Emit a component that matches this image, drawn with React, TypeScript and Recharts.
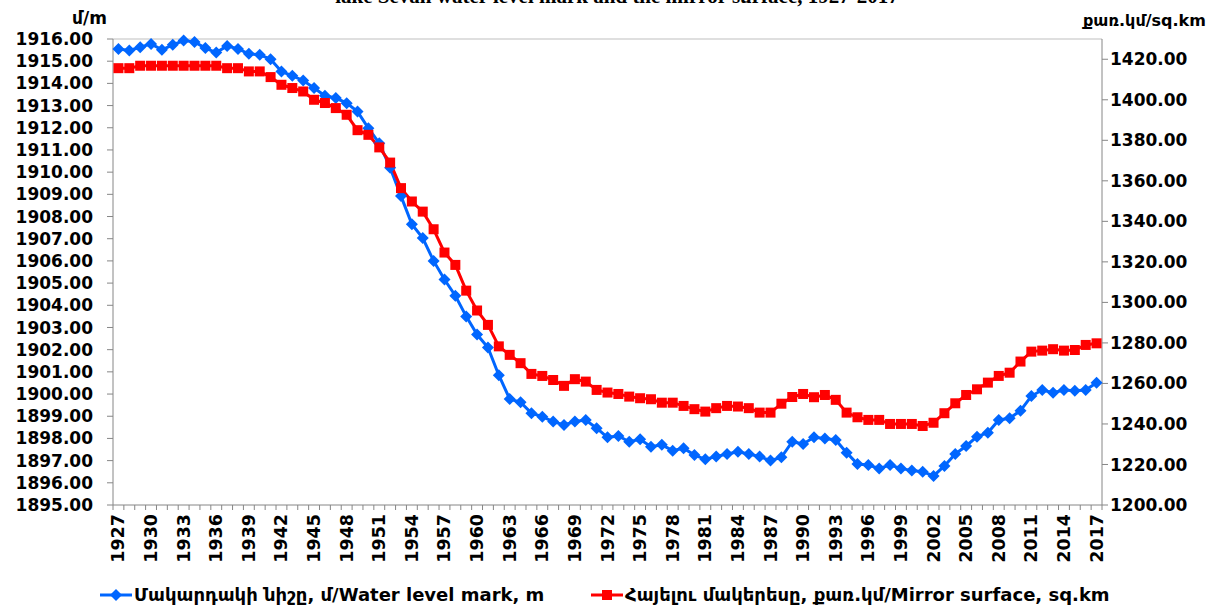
import { LineChart, Line, XAxis, YAxis, ReferenceLine } from 'recharts';

const years = [
  1927, 1928, 1929, 1930, 1931, 1932, 1933, 1934, 1935, 1936,
  1937, 1938, 1939, 1940, 1941, 1942, 1943, 1944, 1945, 1946,
  1947, 1948, 1949, 1950, 1951, 1952, 1953, 1954, 1955, 1956,
  1957, 1958, 1959, 1960, 1961, 1962, 1963, 1964, 1965, 1966,
  1967, 1968, 1969, 1970, 1971, 1972, 1973, 1974, 1975, 1976,
  1977, 1978, 1979, 1980, 1981, 1982, 1983, 1984, 1985, 1986,
  1987, 1988, 1989, 1990, 1991, 1992, 1993, 1994, 1995, 1996,
  1997, 1998, 1999, 2000, 2001, 2002, 2003, 2004, 2005, 2006,
  2007, 2008, 2009, 2010, 2011, 2012, 2013, 2014, 2015, 2016,
  2017,
];

// water level mark, m
const waterLevel = [
  1915.55, 1915.48, 1915.63, 1915.78, 1915.51, 1915.74, 1915.93, 1915.87, 1915.59, 1915.39,
  1915.69, 1915.55, 1915.33, 1915.29, 1915.09, 1914.54, 1914.34, 1914.13, 1913.79, 1913.44,
  1913.34, 1913.11, 1912.73, 1911.98, 1911.3, 1910.2, 1908.92, 1907.65, 1907.03, 1906.0,
  1905.16, 1904.43, 1903.5, 1902.68, 1902.1, 1900.85, 1899.78, 1899.63, 1899.14, 1898.98,
  1898.76, 1898.61, 1898.76, 1898.83, 1898.46, 1898.05, 1898.11, 1897.85, 1897.96, 1897.63,
  1897.71, 1897.45, 1897.56, 1897.25, 1897.06, 1897.18, 1897.3, 1897.4, 1897.3, 1897.18,
  1897.0, 1897.15, 1897.85, 1897.75, 1898.05, 1898.0, 1897.93, 1897.36, 1896.85, 1896.8,
  1896.65, 1896.8, 1896.65, 1896.55, 1896.5, 1896.31, 1896.76, 1897.3, 1897.66, 1898.08,
  1898.26, 1898.83, 1898.91, 1899.25, 1899.91, 1900.18, 1900.06, 1900.18, 1900.15, 1900.18,
  1900.51,
];

// mirror surface, sq.km
const mirrorSurface = [
  1415.6, 1415.6, 1416.8, 1416.8, 1416.8, 1416.8, 1416.8, 1416.8, 1416.8, 1416.8,
  1415.6, 1415.6, 1414.0, 1414.0, 1411.2, 1407.4, 1405.8, 1404.1, 1400.0, 1398.4,
  1395.9, 1392.6, 1385.0, 1382.7, 1376.5, 1369.0, 1356.4, 1349.8, 1344.8, 1336.1,
  1324.6, 1318.5, 1305.8, 1296.0, 1288.9, 1278.3, 1274.1, 1270.0, 1264.7, 1263.7,
  1261.7, 1258.8, 1262.1, 1260.9, 1256.8, 1255.5, 1254.8, 1253.5, 1252.7, 1252.2,
  1250.5, 1250.5, 1248.9, 1247.3, 1246.1, 1247.8, 1248.9, 1248.6, 1247.8, 1245.6,
  1245.6, 1250.0, 1253.3, 1254.8, 1253.2, 1254.3, 1251.9, 1245.6, 1243.3, 1242.0,
  1242.0, 1240.0, 1240.0, 1240.0, 1239.0, 1240.6, 1245.3, 1250.2, 1254.3, 1257.1,
  1260.4, 1263.7, 1265.3, 1270.8, 1275.7, 1276.2, 1276.9, 1276.2, 1276.5, 1279.0,
  1279.8,
];

const leftTicks = [
  1895, 1896, 1897, 1898, 1899, 1900, 1901, 1902, 1903, 1904, 1905,
  1906, 1907, 1908, 1909, 1910, 1911, 1912, 1913, 1914, 1915, 1916,
];
const rightTicks = [1200, 1220, 1240, 1260, 1280, 1300, 1320, 1340, 1360, 1380, 1400, 1420];

const data = years.map((year, i) => ({
  year,
  level: waterLevel[i],
  surface: mirrorSurface[i],
}));

const BLUE = '#0066FF';
const RED = '#FF0000';
const AXIS = '#868686';
const FONT = '"DejaVu Sans", sans-serif';
const HALF_BAND = 989 / 91 / 2;

const Diamond = (props: any) => {
  const { cx, cy } = props;
  if (cx == null || cy == null) return null;
  return <polygon points={`${cx},${cy - 6} ${cx + 6},${cy} ${cx},${cy + 6} ${cx - 6},${cy}`} fill={BLUE} />;
};

const Square = (props: any) => {
  const { cx, cy } = props;
  if (cx == null || cy == null) return null;
  return <rect x={cx - 5} y={cy - 5} width={10} height={10} fill={RED} />;
};

const YearTick = (props: any) => {
  const { x, y, payload } = props;
  const idx = payload.index;
  return (
    <g>
      <line x1={x - HALF_BAND} x2={x - HALF_BAND} y1={y} y2={y + 5} stroke={AXIS} />
      {idx === years.length - 1 && (
        <line x1={x + HALF_BAND} x2={x + HALF_BAND} y1={y} y2={y + 5} stroke={AXIS} />
      )}
      {idx % 3 === 0 && (
        <text
          x={x}
          y={y + 9}
          transform={`rotate(-90, ${x}, ${y + 9})`}
          textAnchor="end"
          dominantBaseline="central"
          fontFamily={FONT}
          fontWeight="bold"
          fontSize={17.5}
          fill="#000"
        >
          {payload.value}
        </text>
      )}
    </g>
  );
};

export default function App() {
  const tickStyle = { fill: '#000', fontSize: 17, fontWeight: 'bold', fontFamily: FONT };
  return (
    <div style={{ position: 'absolute', left: 0, top: 0, width: 1207, height: 609, background: '#fff', overflow: 'hidden' }}>
      <div
        style={{
          position: 'absolute', left: 0, width: 1234, top: -14, textAlign: 'center',
          fontFamily: '"Liberation Serif", serif', fontWeight: 'bold', fontSize: 21, lineHeight: '21px',
        }}
      >
        lake Sevan water level mark and the mirror surface, 1927-2017
      </div>
      <div style={{ position: 'absolute', left: 72, top: 8, fontFamily: FONT, fontWeight: 'bold', fontSize: 17 }}>մ/m</div>
      <div style={{ position: 'absolute', left: 1083, top: 11, fontFamily: FONT, fontWeight: 'bold', fontSize: 16 }}>քառ.կմ/sq.km</div>

      <LineChart width={1207} height={609} data={data} margin={{ top: 39, right: 0, bottom: 0, left: 0 }}>
        <XAxis
          dataKey="year"
          interval={0}
          padding={{ left: HALF_BAND, right: HALF_BAND }}
          height={104}
          tickSize={0}
          tickMargin={0}
          tickLine={false}
          axisLine={{ stroke: AXIS }}
          tick={<YearTick />}
        />
        <YAxis
          yAxisId="left"
          width={113}
          domain={[1895, 1916]}
          ticks={leftTicks}
          interval={0}
          tickFormatter={(v: number) => v.toFixed(2)}
          tickSize={6}
          tickMargin={14}
          axisLine={{ stroke: AXIS }}
          tickLine={{ stroke: AXIS }}
          tick={tickStyle}
        />
        <YAxis
          yAxisId="right"
          orientation="right"
          width={105}
          domain={[1200, 1430]}
          ticks={rightTicks}
          interval={0}
          tickFormatter={(v: number) => v.toFixed(2)}
          tickSize={6}
          tickMargin={2}
          axisLine={{ stroke: AXIS }}
          tickLine={{ stroke: AXIS }}
          tick={tickStyle}
        />
        <ReferenceLine yAxisId="left" y={1916} stroke="#BFBFBF" />
        <Line
          yAxisId="left"
          dataKey="level"
          stroke={BLUE}
          strokeWidth={3}
          dot={<Diamond />}
          activeDot={false}
          isAnimationActive={false}
        />
        <Line
          yAxisId="right"
          dataKey="surface"
          stroke={RED}
          strokeWidth={3}
          dot={<Square />}
          activeDot={false}
          isAnimationActive={false}
        />
      </LineChart>

      <div
        style={{
          position: 'absolute', left: 100, top: 584, display: 'flex', alignItems: 'center',
          fontFamily: FONT, fontWeight: 'bold', fontSize: 18, whiteSpace: 'nowrap',
        }}
      >
        <svg width={34} height={14}>
          <line x1={0} x2={32} y1={7} y2={7} stroke={BLUE} strokeWidth={3} />
          <polygon points="16,1 22,7 16,13 10,7" fill={BLUE} />
        </svg>
        <span style={{ width: 415 }}>Մակարդակի նիշը, մ/Water level mark, m</span>
        <svg width={34} height={14} style={{ marginLeft: 42 }}>
          <line x1={0} x2={32} y1={7} y2={7} stroke={RED} strokeWidth={3} />
          <rect x={11} y={2} width={10} height={10} fill={RED} />
        </svg>
        <span>Հայելու մակերեսը, քառ.կմ/Mirror surface, sq.km</span>
      </div>
    </div>
  );
}
